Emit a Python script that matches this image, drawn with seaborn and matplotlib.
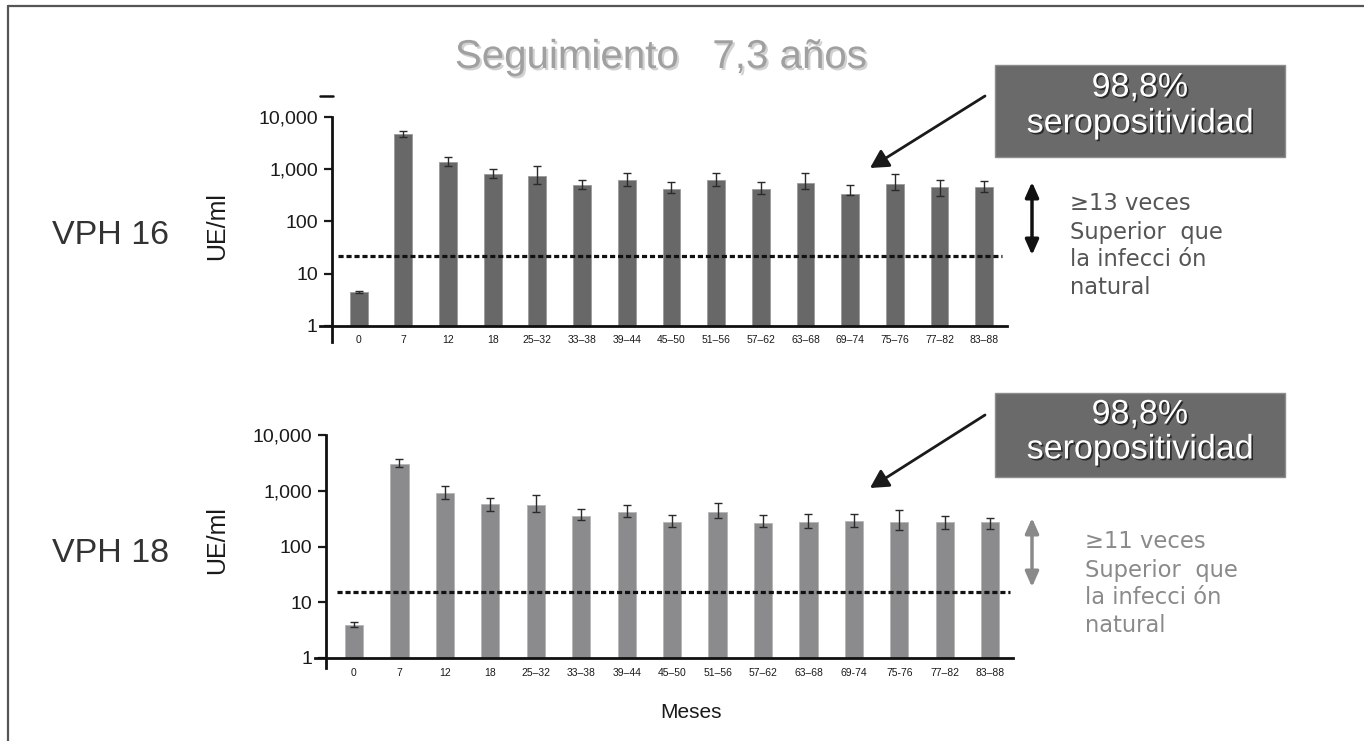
import numpy as np
import pandas as pd
import matplotlib
matplotlib.use("Agg")
import matplotlib.pyplot as plt
import matplotlib.patheffects as pe
from matplotlib.patches import Rectangle, FancyArrowPatch
from matplotlib.lines import Line2D
import seaborn as sns

# meses de seguimiento
meses_16 = ['0', '7', '12', '18', '25–32', '33–38', '39–44', '45–50', '51–56',
            '57–62', '63–68', '69–74', '75–76', '77–82', '83–88']
meses_18 = ['0', '7', '12', '18', '25–32', '33–38', '39–44', '45–50', '51–56',
            '57–62', '63–68', '69-74', '75-76', '77–82', '83–88']

# VPH 16: GMT y IC
vph16_gmt = [4.5, 4730, 1377, 800, 743, 500, 620, 417, 630, 417, 546, 336, 522, 458, 458]
vph16_lo = [4.3, 4070, 1150, 690, 527, 413, 485, 351, 480, 340, 417, 317, 398, 312, 363]
vph16_hi = [4.7, 5500, 1694, 1000, 1140, 617, 856, 570, 850, 562, 856, 507, 800, 630, 590]
vph16_natural = 22

# VPH 18: GMT y IC
vph18_gmt = [3.9, 3050, 922, 571, 555, 357, 410, 275, 410, 265, 275, 287, 272, 272, 272]
vph18_lo = [3.6, 2630, 710, 436, 408, 295, 333, 221, 321, 224, 217, 221, 198, 205, 209]
vph18_hi = [4.4, 3700, 1200, 750, 850, 476, 555, 362, 596, 367, 388, 378, 447, 357, 329]
vph18_natural = 15.5

y_ticks = [1, 10, 100, 1000, 10000]
y_ticklabels = ['1', '10', '100', '1,000', '10,000']

sns.set_style("white")
plt.rcParams['font.family'] = ['Liberation Sans', 'DejaVu Sans']

W, H = 1364, 741
fig = plt.figure(figsize=(W / 100, H / 100), dpi=100)


def fx(x):
    return x / W


def fy(y):
    return 1 - y / H


def panel(rect, meses, gmt, lo, hi, natural, bar_color, edge_color,
          xl, yl_bottom, label_xy, hl_span, pad_x):
    ax = fig.add_axes(rect)
    df = pd.DataFrame({'mes': meses, 'gmt': gmt})
    sns.barplot(data=df, x='mes', y='gmt', color=bar_color, width=0.4,
                edgecolor=edge_color, linewidth=0.6, saturation=1,
                errorbar=None, ax=ax)
    ax.set_yscale('log')
    g = np.array(gmt)
    yerr = [g - np.array(lo), np.array(hi) - g]
    ax.errorbar(np.arange(len(meses)), g, yerr=yerr, fmt='none',
                ecolor='#2a2a2a', elinewidth=1, capsize=3, capthick=1)
    ax.axhline(natural, xmin=hl_span[0], xmax=hl_span[1], color='#111111',
               lw=2.3, ls=(0, (1.6, 0.9)))
    ax.set_ylim(1, 10000)
    ax.set_xlim(xl[0], xl[1])
    ax.set_yticks(y_ticks)
    ax.set_yticklabels(y_ticklabels)
    ax.yaxis.set_minor_locator(matplotlib.ticker.NullLocator())
    ax.tick_params(axis='y', labelsize=14, length=6, width=1.6, direction='out',
                   color='#1a1a1a', labelcolor='#1a1a1a', pad=4, left=True)
    ax.tick_params(axis='x', labelsize=7.5, length=0, pad=pad_x, labelcolor='#1a1a1a')
    ax.set_xlabel('')
    ax.set_ylabel('UE/ml', fontsize=18, color='#1a1a1a')
    ax.yaxis.set_label_coords(*label_xy)
    for s in ['top', 'right']:
        ax.spines[s].set_visible(False)
    for s in ['left', 'bottom']:
        ax.spines[s].set_linewidth(2)
        ax.spines[s].set_color('#111111')
    ax.spines['bottom'].set_bounds(xl[2], xl[1])
    ax.spines['left'].set_bounds(yl_bottom, 10000)
    ax.grid(False)
    return ax


panel([fx(331.7), fy(326), (1007 - 331.7) / W, (326 - 117) / H],
      meses_16, vph16_gmt, vph16_lo, vph16_hi, vph16_natural,
      '#686868', '#9a9a9a', (-0.604, 14.51, -0.866), 0.494,
      (-0.152, 0.478), (0.009, 0.993), 6.5)

panel([fx(326), fy(658), (1013 - 326) / W, (658 - 435) / H],
      meses_18, vph18_gmt, vph18_lo, vph18_hi, vph18_natural,
      '#8b8b8d', '#b5b5b5', (-0.616, 14.5, -0.86), 0.66,
      (-0.141, 0.53), (0.016, 0.996), 7)

# marco (arriba e izquierda)
fig.add_artist(Line2D([fx(8), fx(1364)], [fy(6), fy(6)], color='#555555', lw=1.6))
fig.add_artist(Line2D([fx(8), fx(8)], [fy(6), fy(741)], color='#555555', lw=1.6))
fig.add_artist(Line2D([fx(320), fx(333)], [fy(96), fy(96)], color='#111111', lw=1.8))

# título
fig.text(fx(661), fy(57), 'Seguimiento   7,3 años', fontsize=29, color='#a0a0a0',
         ha='center', va='center',
         path_effects=[pe.SimplePatchShadow(offset=(1.5, -1.5), shadow_rgbFace='#d2d2d2', alpha=1),
                       pe.Normal()])

fig.text(fx(52), fy(236), 'VPH 16', fontsize=24.5, color='#333333', ha='left', va='center')
fig.text(fx(52), fy(553), 'VPH 18', fontsize=24.5, color='#333333', ha='left', va='center')
fig.text(fx(691), fy(712), 'Meses', fontsize=15, color='#1a1a1a', ha='center', va='center')

# cajas de seropositividad
shadow = [pe.SimplePatchShadow(offset=(1.2, -1.2), shadow_rgbFace='#222222', alpha=0.9), pe.Normal()]
for top, bot, l1, l2 in [(65, 157, 88, 124), (393, 477, 415, 450)]:
    fig.add_artist(Rectangle((fx(995), fy(bot)), (1285 - 995) / W, (bot - top) / H,
                             transform=fig.transFigure, facecolor='#6a6a6a',
                             edgecolor='#8c8c8c', lw=1))
    fig.text(fx(1140), fy(l1), '98,8%', fontsize=24.5, color='white',
             ha='center', va='center', path_effects=shadow)
    fig.text(fx(1140), fy(l2), 'seropositividad', fontsize=24.5, color='white',
             ha='center', va='center', path_effects=shadow)

# flechas hacia las barras
for y0, y1 in [(96, 168), (415, 488)]:
    fig.add_artist(FancyArrowPatch((fx(985), fy(y0)), (fx(870), fy(y1)),
                                   transform=fig.transFigure,
                                   arrowstyle='-|>,head_length=0.55,head_width=0.3',
                                   mutation_scale=20, lw=2, color='#1a1a1a',
                                   shrinkA=0, shrinkB=0))

# flechas dobles y texto lateral
for (ya, yb), col in [((182, 255), '#111111'), ((518, 587), '#8a8a8a')]:
    fig.add_artist(FancyArrowPatch((fx(1032), fy(ya)), (fx(1032), fy(yb)),
                                   transform=fig.transFigure,
                                   arrowstyle='<|-|>,head_length=0.45,head_width=0.2',
                                   mutation_scale=20, lw=2.5, color=col,
                                   shrinkA=0, shrinkB=0))

lineas_16 = ['≥13 veces', 'Superior  que', 'la infecci ón', 'natural']
lineas_18 = ['≥11 veces', 'Superior  que', 'la infecci ón', 'natural']
for txt, yy in zip(lineas_16, [204, 232, 259, 287]):
    fig.text(fx(1070), fy(yy), txt, fontsize=16.3, color='#555555',
             family='DejaVu Sans', ha='left', va='center')
for txt, yy in zip(lineas_18, [542, 570, 598, 625]):
    fig.text(fx(1085), fy(yy), txt, fontsize=16.3, color='#8a8a8a',
             family='DejaVu Sans', ha='left', va='center')

fig.savefig('out.png', dpi=100)
